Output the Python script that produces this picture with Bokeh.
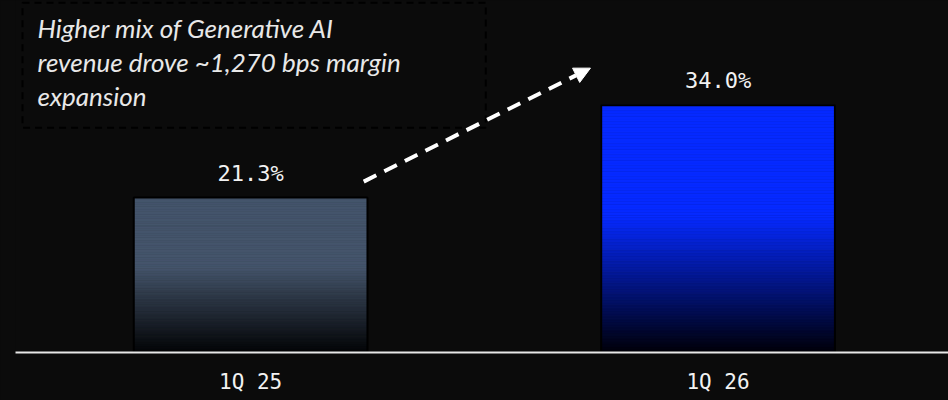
import numpy as np
from bokeh.plotting import figure
from bokeh.models import (Range1d, FixedTicker, Arrow, NormalHead, Label,
                          ColumnDataSource)
from bokeh.core.properties import value
from bokeh.embed import file_html
from bokeh.resources import INLINE

# ---- data ----
categories = ["1Q 25", "1Q 26"]
margin_pct = [21.3, 34.0]
value_labels = ["21.3%", "34.0%"]
note_lines = ["Higher mix of Generative AI",
              "revenue drove ~1,270 bps margin",
              "expansion"]

# ---- styles ----
BG = "#0b0b0b"
top_colors = [(0x45, 0x55, 0x6b), (0x06, 0x2a, 0xff)]
bottom_colors = [(0x03, 0x04, 0x06), (0x00, 0x00, 0x08)]
BAR_W = 0.5
SOLID_FRAC = 0.55
N_SLICES = 90

x_pos = [i + 0.5 for i in range(len(categories))]

p = figure(width=948, height=400, output_backend="svg", toolbar_location=None,
           x_range=Range1d(-0.003, 1.993), y_range=Range1d(0, 48.4),
           y_axis_location=None, min_border_left=15, min_border_right=0,
           min_border_top=0, min_border_bottom=48)
p.background_fill_color = BG
p.border_fill_color = BG
p.outline_line_color = None
p.grid.visible = False
p.styles = {"background-color": BG}

# gradient bars built from slices
xs, bots, tops, cols = [], [], [], []
for i, v in enumerate(margin_pct):
    tc, bc = top_colors[i], bottom_colors[i]
    for k in range(N_SLICES):
        f0 = k / N_SLICES
        f1 = (k + 1) / N_SLICES
        fm = (f0 + f1) / 2
        t = min(fm / SOLID_FRAC, 1.0)
        c = tuple(int(round(bc[j] + (tc[j] - bc[j]) * t)) for j in range(3))
        xs.append(x_pos[i])
        bots.append(v * f0)
        tops.append(v * f1)
        cols.append("#%02x%02x%02x" % c)
src = ColumnDataSource(dict(x=xs, bottom=bots, top=tops, color=cols))
p.vbar(x="x", bottom="bottom", top="top", width=BAR_W, fill_color="color",
       line_color="color", line_width=0.6, source=src)
p.vbar(x=x_pos, bottom=0, top=margin_pct, width=BAR_W, fill_color=None,
       line_color="black", line_width=2)

# value labels
p.text(x=x_pos, y=margin_pct, text=value_labels, text_align="center",
       text_baseline="bottom", y_offset=-12, text_color="#f2f2f2",
       text_font=value("DejaVu Sans Mono"), text_font_size="22px")

# axis
p.xaxis.ticker = FixedTicker(ticks=x_pos)
p.xaxis.major_label_overrides = {x: c for x, c in zip(x_pos, categories)}
p.xaxis.major_tick_line_color = None
p.xaxis.minor_tick_line_color = None
p.xaxis.major_tick_out = 0
p.xaxis.major_tick_in = 0
p.xaxis.axis_line_color = "#e8e8e8"
p.xaxis.axis_line_width = 2
p.xaxis.major_label_standoff = 17
p.xaxis.major_label_text_color = "#f2f2f2"
p.xaxis.major_label_text_font = "DejaVu Sans Mono"
p.xaxis.major_label_text_font_size = "21px"

# dashed arrow between bars
arrow = Arrow(end=NormalHead(size=16, fill_color="white", line_color="white"),
              x_start=x_pos[0] + BAR_W / 2 - 0.008, y_start=margin_pct[0] + 2.2,
              x_end=x_pos[1] - BAR_W / 2 - 0.023, y_end=margin_pct[1] + 5.1,
              line_color="white", line_width=4, line_dash="14 9")
p.add_layout(arrow)

# annotation box (dashed, black)
p.quad(left=[0.012], right=[1.003], top=[48.1], bottom=[30.9],
       fill_color=None, line_color="black", line_width=2, line_dash="7 5")
for i, line in enumerate(note_lines):
    p.add_layout(Label(x=22, y=325 - i * 34, x_units="screen", y_units="screen",
                       text=line, text_font="Lato", text_font_style="italic",
                       text_font_size="26px", text_color="#e8e8e8",
                       text_baseline="alphabetic"))

open("out.html", "w").write(file_html(p, INLINE))
